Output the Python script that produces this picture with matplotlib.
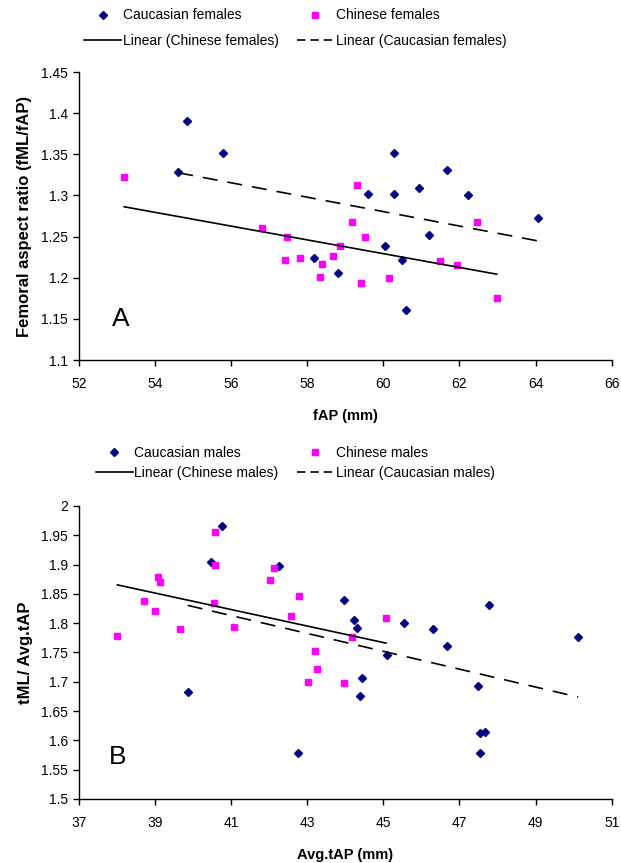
import numpy as np
import matplotlib.pyplot as plt
from matplotlib.lines import Line2D
from matplotlib.ticker import FuncFormatter

plt.rcParams['font.family'] = ['Liberation Sans', 'DejaVu Sans']

# Panel A: femoral aspect ratio vs fAP
cauc_f_x = [54.83, 55.79, 54.61, 58.19, 58.80, 60.28, 61.68, 59.59, 60.29, 60.95,
            62.22, 64.07, 61.19, 60.05, 60.50, 60.60]
cauc_f_y = [1.390, 1.352, 1.328, 1.224, 1.206, 1.352, 1.331, 1.302, 1.302, 1.309,
            1.300, 1.273, 1.252, 1.238, 1.222, 1.161]
chin_f_x = [53.19, 56.82, 57.48, 57.42, 57.80, 58.40, 58.67, 58.87, 58.34, 59.31,
            59.17, 59.51, 59.42, 60.14, 61.49, 61.94, 62.46, 62.98]
chin_f_y = [1.323, 1.260, 1.250, 1.221, 1.224, 1.217, 1.227, 1.238, 1.201, 1.313,
            1.268, 1.250, 1.194, 1.200, 1.220, 1.216, 1.268, 1.176]

# Panel B: tML / Avg.tAP vs Avg.tAP
cauc_m_x = [40.75, 40.47, 42.27, 39.86, 43.96, 44.22, 44.31, 44.43, 44.39, 42.77,
            45.09, 45.53, 46.30, 46.66, 47.78, 47.50, 47.54, 47.67, 47.54, 50.12]
cauc_m_y = [1.966, 1.904, 1.898, 1.683, 1.840, 1.805, 1.791, 1.707, 1.676, 1.579,
            1.746, 1.800, 1.790, 1.761, 1.831, 1.693, 1.613, 1.615, 1.578, 1.777]
chin_m_x = [40.59, 40.59, 39.07, 39.12, 38.72, 38.99, 38.01, 39.67, 40.54, 41.07,
            42.14, 42.02, 42.79, 42.58, 43.21, 43.25, 43.01, 43.96, 44.17, 45.07]
chin_m_y = [1.956, 1.900, 1.879, 1.871, 1.838, 1.821, 1.778, 1.790, 1.835, 1.794,
            1.895, 1.873, 1.846, 1.813, 1.752, 1.722, 1.700, 1.698, 1.776, 1.808]

xticks_a = [52, 54, 56, 58, 60, 62, 64, 66]
yticks_a = [1.1, 1.15, 1.2, 1.25, 1.3, 1.35, 1.4, 1.45]
xticks_b = [37, 39, 41, 43, 45, 47, 49, 51]
yticks_b = [1.5, 1.55, 1.6, 1.65, 1.7, 1.75, 1.8, 1.85, 1.9, 1.95, 2.0]

NAVY = '#000080'
MAGENTA = '#ff00ff'
DASH = (9, 6)


def trend(ax, x, y, **kw):
    k, b = np.polyfit(x, y, 1)
    xs = np.array([min(x), max(x)])
    ax.plot(xs, k * xs + b, color='black', lw=1.2, **kw)


def style(ax, xticks, yticks, xlabel, ylabel):
    for s in ('top', 'right'):
        ax.spines[s].set_visible(False)
    for s in ('left', 'bottom'):
        ax.spines[s].set_linewidth(1.0)
    ax.set_xlim(xticks[0], xticks[-1])
    ax.set_ylim(yticks[0], yticks[-1])
    ax.set_xticks(xticks)
    ax.set_yticks(yticks)
    ax.yaxis.set_major_formatter(FuncFormatter(lambda v, p: '%g' % v))
    ax.tick_params(direction='out', length=4, width=1, labelsize=10,
                   colors='black', pad=4)
    ax.tick_params(axis='x', pad=8)
    ax.set_xlabel(xlabel, fontsize=10.5, fontweight='bold', labelpad=13)
    ax.set_ylabel(ylabel, fontsize=12, fontweight='bold', labelpad=6)


def legend(ax, labels, y, spacing):
    handles = [
        Line2D([], [], ls='none', marker='D', ms=4, color=NAVY),
        Line2D([], [], color='black', lw=1.2),
        Line2D([], [], ls='none', marker='s', ms=4.5, color=MAGENTA),
        Line2D([], [], color='black', lw=1.2, dashes=(5, 3)),
    ]
    ax.legend(handles, labels, ncol=2, loc='center', frameon=False,
              bbox_to_anchor=(0.475, y), bbox_transform=fig.transFigure,
              fontsize=10, handlelength=2.7, handletextpad=0.1,
              columnspacing=1.3, labelspacing=spacing)


fig = plt.figure(figsize=(6.21, 8.63), dpi=100)

ax1 = fig.add_axes([0.127, 0.5828, 0.858, 0.3337])
ax1.plot(cauc_f_x, cauc_f_y, ls='none', marker='D', ms=4.5, color=NAVY)
ax1.plot(chin_f_x, chin_f_y, ls='none', marker='s', ms=5, color=MAGENTA)
trend(ax1, chin_f_x, chin_f_y)
trend(ax1, cauc_f_x, cauc_f_y, dashes=DASH)
style(ax1, xticks_a, yticks_a, 'fAP (mm)', 'Femoral aspect ratio (fML/fAP)')
ax1.text(53.09, 1.15, 'A', fontsize=19, va='center', ha='center')
legend(ax1, ['Caucasian females', 'Linear (Chinese females)',
             'Chinese females', 'Linear (Caucasian females)'], 0.9676, 0.8)

ax2 = fig.add_axes([0.127, 0.0742, 0.858, 0.3395])
ax2.plot(cauc_m_x, cauc_m_y, ls='none', marker='D', ms=4.5, color=NAVY)
ax2.plot(chin_m_x, chin_m_y, ls='none', marker='s', ms=5, color=MAGENTA)
trend(ax2, chin_m_x, chin_m_y)
trend(ax2, cauc_m_x, cauc_m_y, dashes=DASH)
style(ax2, xticks_b, yticks_b, 'Avg.tAP (mm)', 'tML/ Avg.tAP')
ax2.text(38.03, 1.572, 'B', fontsize=19, va='center', ha='center')
legend(ax2, ['Caucasian males', 'Linear (Chinese males)',
             'Chinese males', 'Linear (Caucasian males)'], 0.4635, 0.4)

fig.savefig('out.png', dpi=100)
